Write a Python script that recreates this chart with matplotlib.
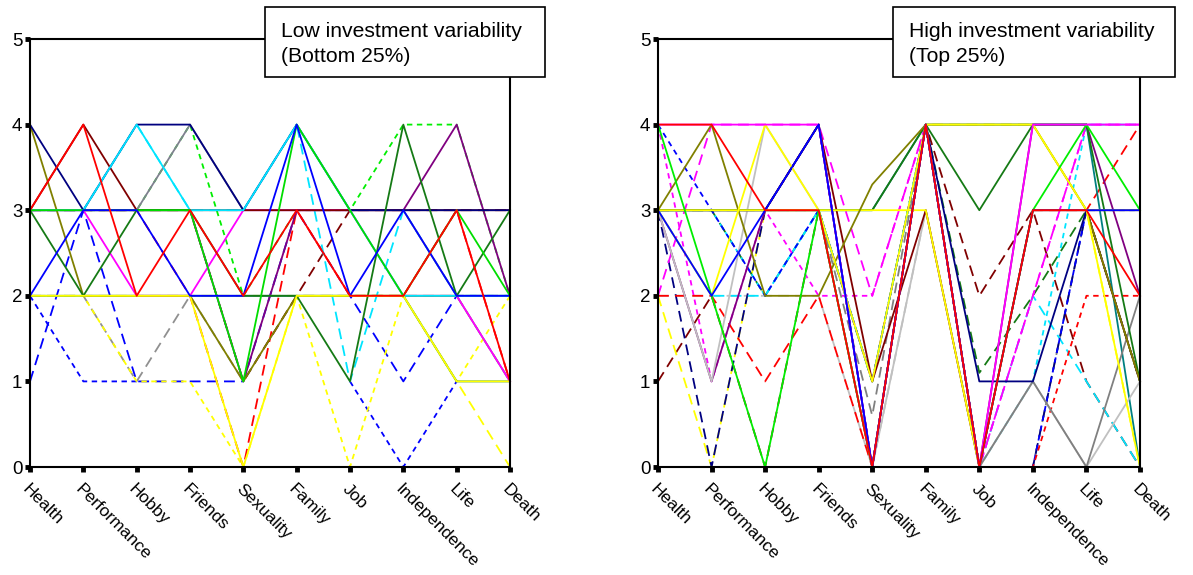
import numpy as np
import matplotlib
matplotlib.use("Agg")
import matplotlib.pyplot as plt
from matplotlib.patches import Rectangle

plt.rcParams['font.family'] = ['Liberation Sans', 'DejaVu Sans']

categories = ["Health", "Performance", "Hobby", "Friends", "Sexuality",
              "Family", "Job", "Independence", "Life", "Death"]
yticks = [0, 1, 2, 3, 4, 5]

nan = np.nan
# ---------------- Low investment variability (bottom 25%) ----------------
low_values = [
    [2, 1, 1, nan, nan, nan, 1, 0, 1, nan],      # blue dotted
    [1, 3, 1, 1, 1, 3, 2, 1, 2, 2],              # blue long dash
    [2, 2, 1, 2, 1, 2, 2, 2, 2, 1],              # gray long dash
    [2, 2, 1, 1, 0, 2, 0, 2, 1, 2],              # yellow dotted
    [2, 2, 2, 2, 2, 2, 2, 2, 1, 0],              # yellow long dash
    [3, 3, 3, 2, 0, 3, 2, 2, 3, 1],              # red long dash
    [3, 3, 3, 4, 2, 3, 3, 4, 4, 2],              # green dotted
    [3, 3, 3, 3, 1, 2, 3, 3, 3, 3],              # maroon long dash
    [3, 3, 4, 3, 3, 4, 1, 3, 2, 2],              # cyan long dash
    [2, 2, 2, 2, 2, 2, 2, 2, 1, 1],              # teal
    [3, 3, 3, 4, 3, 3, 3, 3, 2, 1],              # gray
    [3, 3, 3, 3, 1, 3, 3, 3, 4, 2],              # purple
    [3, 3, 2, 2, 3, 3, 3, 2, 2, 1],              # magenta
    [4, 2, 2, 2, 1, 2, 2, 2, 2, 2],              # olive
    [3, 4, 3, 3, 3, 3, 3, 3, 3, 3],              # maroon
    [4, 3, 4, 4, 3, 4, 3, 3, 3, 3],              # navy
    [3, 3, 4, 3, 3, 4, 3, 2, 2, 2],              # cyan
    [3, 2, 3, 3, 2, 2, 1, 4, 2, 3],              # dark green
    [2, 2, 2, 2, 0, 2, 2, 2, 1, 1],              # yellow
    [3, 3, 3, 3, 1, 4, 3, 2, 3, 2],              # green
    [2, 3, 3, 2, 2, 4, 2, 3, 2, 2],              # blue
    [3, 4, 2, 3, 2, 3, 2, 2, 3, 1],              # red
]
low_colors = ['#0000ff', '#0000ff', '#909090', '#ffff00', '#ffff00', '#ff0000',
              '#00ee00', '#800000', '#00e5ff', '#008080', '#808090', '#800080',
              '#ff00ff', '#808000', '#800000', '#000080', '#00e5ff', '#157a15',
              '#ffff00', '#00dd00', '#0000ff', '#ff0000']
low_styles = ['dot', 'dash', 'dash', 'dot', 'dash', 'dash', 'dot', 'dash', 'dash',
              'solid', 'solid', 'solid', 'solid', 'solid', 'solid', 'solid', 'solid',
              'solid', 'solid', 'solid', 'solid', 'solid']

# ---------------- High investment variability (top 25%) ----------------
high_values = [
    [2, 2, 2, 2, 0, 3, 0, nan, nan, nan],        # light gray long dash
    [3, 3, 3, 3, 0.6, 4, 0, 0, 3, 1],            # gray long dash
    [1, 2, 0, 3, 1, 4, 2, 3, 1, 0],              # maroon long dash
    [2, 0, 3, 3, 1, 4, 4, 4, 3, 0],              # yellow long dash
    [3, 0, 3, 4, 0, 4, 0, 0, 3, 1],              # navy long dash
    [3, 3, 2, 3, 1, 4, 1.1, 2, 3, 1],            # green long dash
    [3, 3, 2, 3, 1, 4, 0, 1, 4, 4],              # cyan dotted
    [3, 2, 2, 3, 1, 4, 0, 2, 1, 0],              # cyan long dash
    [4, 3, 2, 3, 1, 4, 0, 0, 3, 3],              # blue dotted
    [4, 1, 3, 2, 2, 4, 0, 2, 4, 4],              # magenta dotted
    [2, 4, 4, 4, 2, 4, 0, 2, 4, 4],              # magenta long dash
    [nan, nan, 3, 4, 0, 4, 0, 0, 2, 2],          # red dotted
    [2, 2, 1, 2, 0, 4, 0, 3, 3, 4],              # red long dash
    [3, 3, 3, 3, 3, 4, 4, 4, 4, 0],              # teal
    [3, 1, 3, 3, 0, 4, 0, 4, 4, 2],              # purple
    [3, 1, 4, 3, 0, 3, 0, 1, 0, 1],              # light gray
    [3, 3, 3, 3, 0, 4, 0, 1, 0, 2],              # gray
    [3, 3, 3, 4, 1, 3, 0, 3, 3, 1],              # maroon
    [3, 3, 3, 4, 0, 4, 1, 1, 3, 3],              # navy
    [3, 3, 3, 3, 3, 4, 3, 4, 4, 1],              # dark green
    [3, 3, 3, 3, 3, 3, 0, 3, 3, 3],              # yellow (flat)
    [3, 4, 2, 2, 3.3, 4, 4, 4, 3, 1],            # olive
    [3, 2, 4, 3, 1, 4, 4, 4, 3, 0],              # yellow
    [4, 2, 0, 3, 0, 4, 0, 3, 4, 3],              # green
    [4, 4, 4, 4, 0, 4, 0, 4, 4, 4],              # magenta
    [3, 2, 3, 4, 0, 4, 0, 3, 3, 3],              # blue
    [4, 4, 3, 3, 0, 4, 0, 3, 3, 2],              # red
]
high_colors = ['#c0c0c0', '#808080', '#800000', '#ffff00', '#000080', '#157a15',
               '#00e5ff', '#00e5ff', '#0000ff', '#ff00ff', '#ff00ff', '#ff0000',
               '#ff0000', '#008080', '#800080', '#c0c0c0', '#808080', '#800000',
               '#000080', '#157a15', '#ffff00', '#808000', '#ffff00', '#00ee00',
               '#ff00ff', '#0000ff', '#ff0000']
high_styles = ['dash', 'dash', 'dash', 'dash', 'dash', 'dash', 'dot', 'dash', 'dot',
               'dot', 'dash', 'dot', 'dash', 'solid', 'solid', 'solid', 'solid',
               'solid', 'solid', 'solid', 'solid', 'solid', 'solid', 'solid',
               'solid', 'solid', 'solid']

titles = ["Low investment variability\n(Bottom 25%)",
          "High investment variability\n(Top 25%)"]

dash_map = {'solid': '-', 'dash': (0, (6, 3.5)), 'dot': (0, (3, 2.5))}

W, H = 1193, 575
fig = plt.figure(figsize=(W / 100, H / 100), dpi=100)

panels = [
    (30, 510, 265, 545, low_values, low_colors, low_styles, titles[0]),
    (658, 1140, 893, 1175, high_values, high_colors, high_styles, titles[1]),
]
top_px, bot_px = 39, 467

for (x0, x1, bx0, bx1, vals, cols, stys, title) in panels:
    ax = fig.add_axes([x0 / W, (H - bot_px) / H, (x1 - x0) / W, (bot_px - top_px) / H])
    xs = np.arange(len(categories))
    for v, c, s in zip(vals, cols, stys):
        ax.plot(xs, v, color=c, lw=1.3, linestyle=dash_map[s], clip_on=False)
    ax.set_xlim(0, len(categories) - 1)
    ax.set_ylim(0, 5)
    ax.set_xticks(xs)
    ax.set_xticklabels(categories, rotation=-45, ha='left', va='top',
                       rotation_mode='anchor', fontsize=12.5)
    ax.set_yticks(yticks)
    ax.set_yticklabels([str(t) for t in yticks], fontsize=13.5)
    ax.tick_params(axis='both', direction='out', length=3.5, width=3.5, color='black')
    ax.tick_params(axis='x', pad=7)
    ax.tick_params(axis='y', pad=2)
    for sp in ax.spines.values():
        sp.set_linewidth(1.5)
        sp.set_color('black')
    # title box
    ux = (x1 - x0) / 9.0
    uy = (bot_px - top_px) / 5.0
    rx0 = (bx0 - x0) / ux
    rx1 = (bx1 - x0) / ux
    ry0 = 5 - (77 - top_px) / uy
    ry1 = 5 - (7 - top_px) / uy
    rect = Rectangle((rx0, ry0), rx1 - rx0, ry1 - ry0, facecolor='white',
                     edgecolor='black', lw=1.2, clip_on=False, zorder=10)
    ax.add_patch(rect)
    ax.text(rx0 + 16 / ux, (ry0 + ry1) / 2 - 2 / uy, title, ha='left', va='center',
            fontsize=15.2, zorder=11, linespacing=1.45)

fig.savefig("out.png", dpi=100)
